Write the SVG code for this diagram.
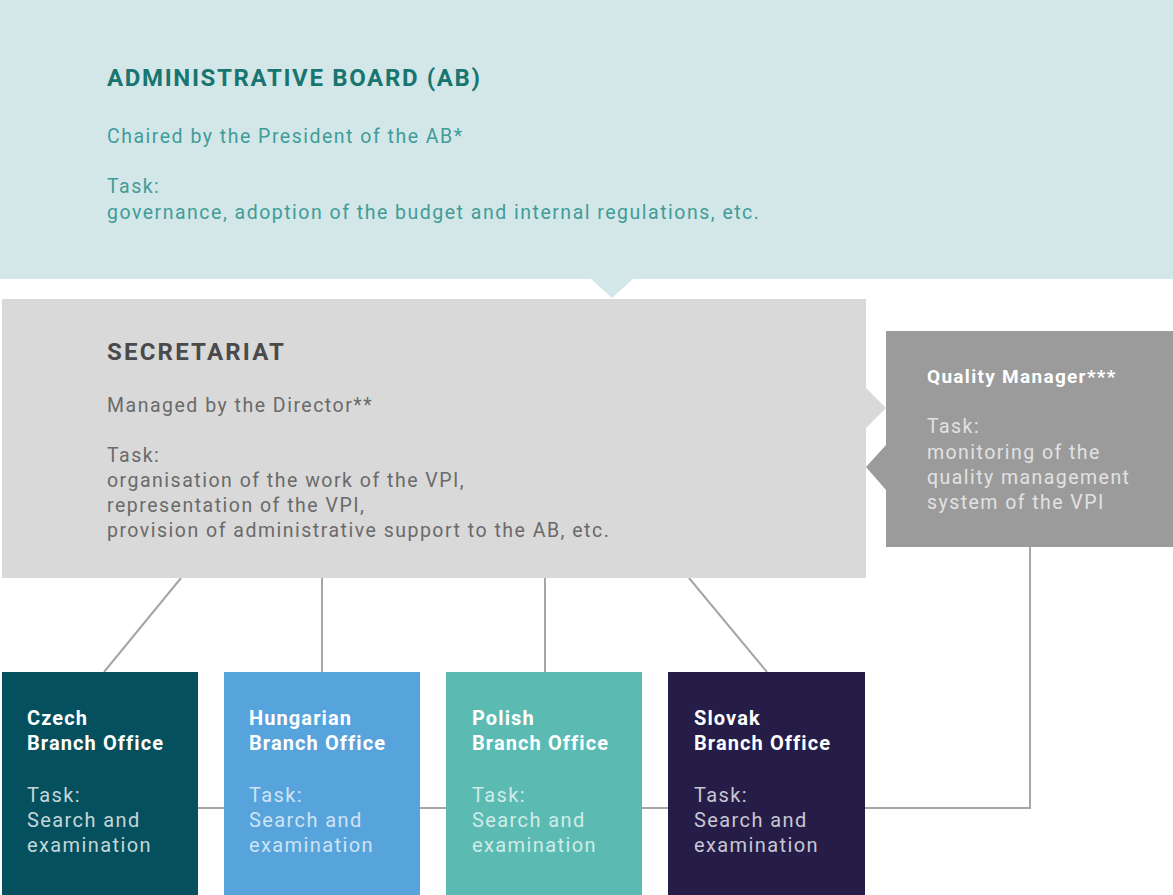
<svg xmlns="http://www.w3.org/2000/svg" width="1173" height="895" viewBox="0 0 1173 895">
<style>
text{font-family:Roboto,"Liberation Sans",sans-serif}
.h{font-size:24px;font-weight:700}
.t{font-size:19.5px;letter-spacing:1.5px}
.ab{fill:#3f9c98}
.sec{fill:#6a6a6a}
.qm{fill:#e2e2e2;letter-spacing:1.45px}
.bt{font-size:20px;font-weight:700;fill:#ffffff;letter-spacing:1.1px}
.bx{font-size:20px;letter-spacing:1.4px}
.conn{stroke:#a6a6a6;stroke-width:2;fill:none}
</style>
<g id="connectors">
<line class="conn" x1="181" y1="578" x2="104" y2="672"/>
<line class="conn" x1="322" y1="578" x2="322" y2="672"/>
<line class="conn" x1="545" y1="578" x2="545" y2="672"/>
<line class="conn" x1="689" y1="578" x2="767" y2="672"/>
<polyline class="conn" points="198,808 865,808"/>
<polyline class="conn" points="865,808 1030,808 1030,547"/>
</g>
<g id="admin-board">
<rect x="0" y="0" width="1173" height="279" fill="#d3e7e8"/>
<polygon points="590,278 634,278 612,298" fill="#d3e7e8"/>
<text class="h" x="107" y="86" fill="#18756f" style="letter-spacing:1.65px">ADMINISTRATIVE BOARD (AB)</text>
<text class="t ab" x="107" y="143">Chaired by the President of the AB*</text>
<text class="t ab" x="107" y="193">Task:</text>
<text class="t ab" x="107" y="219">governance, adoption of the budget and internal regulations, etc.</text>
</g>
<g id="secretariat">
<rect x="2" y="299" width="864" height="279" fill="#d9d9d9"/>
<polygon points="866,388 886,408 866,428" fill="#d9d9d9"/>
<text class="h" x="107" y="360" fill="#4a4a4a" style="letter-spacing:2.2px">SECRETARIAT</text>
<text class="t sec" x="107" y="412">Managed by the Director**</text>
<text class="t sec" x="107" y="462">Task:</text>
<text class="t sec" x="107" y="487">organisation of the work of the VPI,</text>
<text class="t sec" x="107" y="512">representation of the VPI,</text>
<text class="t sec" x="107" y="537">provision of administrative support to the AB, etc.</text>
</g>
<g id="quality-manager">
<rect x="886" y="331" width="287" height="216" fill="#9b9b9b"/>
<polygon points="886,445 866,467 886,490" fill="#9b9b9b"/>
<text x="927" y="383" font-size="19" font-weight="700" fill="#ffffff" style="letter-spacing:1.3px">Quality Manager***</text>
<text class="t qm" x="927" y="433">Task:</text>
<text class="t qm" x="927" y="459">monitoring of the</text>
<text class="t qm" x="927" y="484">quality management</text>
<text class="t qm" x="927" y="509">system of the VPI</text>
</g>
<g id="czech">
<rect x="2" y="672" width="196" height="223" fill="#05505e"/>
<text class="bt" x="27" y="725">Czech</text>
<text class="bt" x="27" y="750">Branch Office</text>
<text class="bx" x="27" y="802" fill="#c4d6d9">Task:</text>
<text class="bx" x="27" y="827" fill="#c4d6d9">Search and</text>
<text class="bx" x="27" y="852" fill="#c4d6d9">examination</text>
</g>
<g id="hungarian">
<rect x="224" y="672" width="196" height="223" fill="#57a3dc"/>
<text class="bt" x="249" y="725">Hungarian</text>
<text class="bt" x="249" y="750">Branch Office</text>
<text class="bx" x="249" y="802" fill="#cfe3f4">Task:</text>
<text class="bx" x="249" y="827" fill="#cfe3f4">Search and</text>
<text class="bx" x="249" y="852" fill="#cfe3f4">examination</text>
</g>
<g id="polish">
<rect x="446" y="672" width="196" height="223" fill="#5bbbb3"/>
<text class="bt" x="472" y="725">Polish</text>
<text class="bt" x="472" y="750">Branch Office</text>
<text class="bx" x="472" y="802" fill="#d0ebe8">Task:</text>
<text class="bx" x="472" y="827" fill="#d0ebe8">Search and</text>
<text class="bx" x="472" y="852" fill="#d0ebe8">examination</text>
</g>
<g id="slovak">
<rect x="668" y="672" width="197" height="223" fill="#251d47"/>
<text class="bt" x="694" y="725">Slovak</text>
<text class="bt" x="694" y="750">Branch Office</text>
<text class="bx" x="694" y="802" fill="#c8c6d2">Task:</text>
<text class="bx" x="694" y="827" fill="#c8c6d2">Search and</text>
<text class="bx" x="694" y="852" fill="#c8c6d2">examination</text>
</g>
</svg>
